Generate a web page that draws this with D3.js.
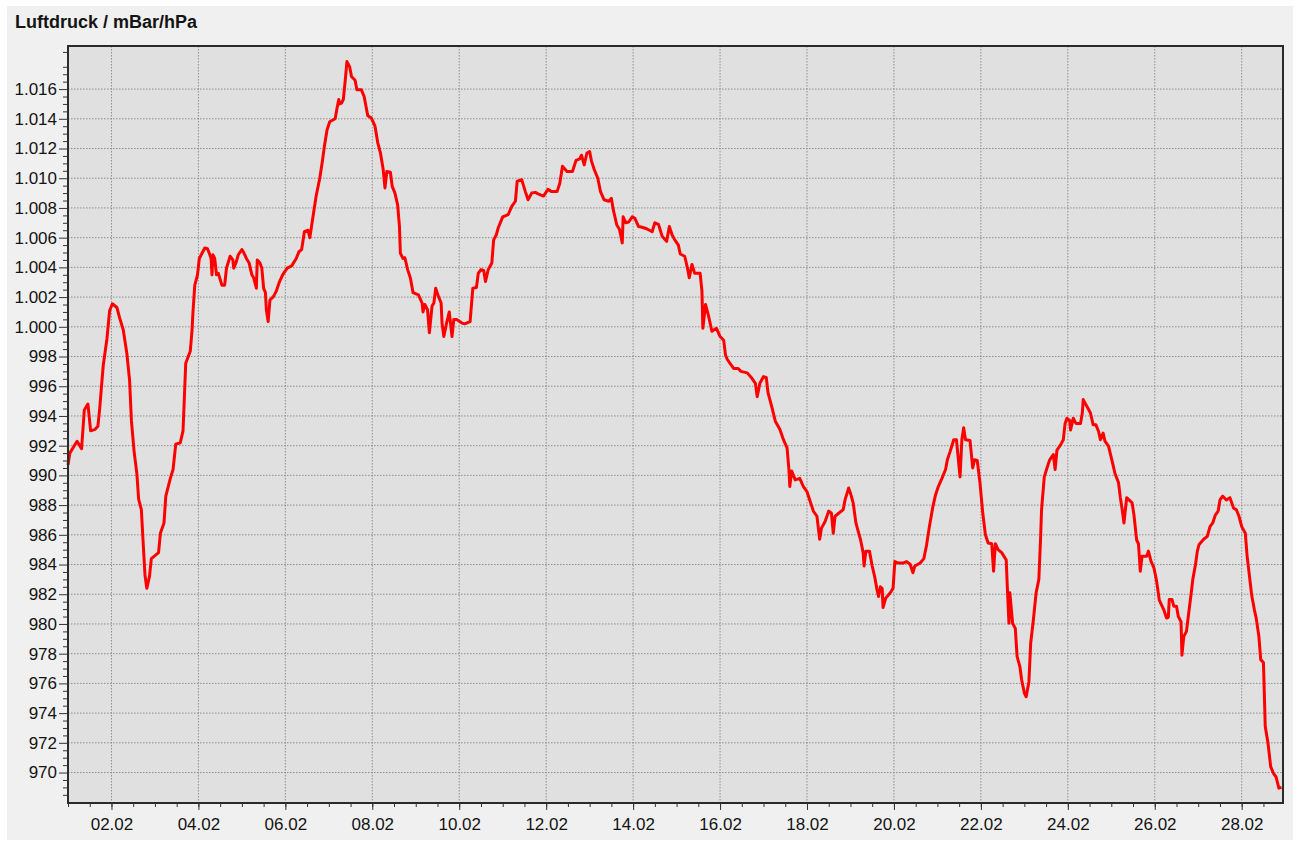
<!DOCTYPE html>
<html>
<head>
<meta charset="utf-8">
<script src="https://cdn.jsdelivr.net/npm/d3@7"></script>
<style>
  body { margin: 0; background: #fff; }
  svg { display: block; font-family: "Liberation Sans", Arial, sans-serif; }
</style>
</head>
<body>
<div id="chart"></div>
<script>
// hours after 01.02 00:00 and pressure in mBar
const hours = [
  0, 1, 5, 7.5, 9, 11, 12.5, 15, 16.5, 17.5, 18.5, 19.5, 21.5, 23, 24.5, 27, 28.5, 30.5, 32.5, 34,
  35, 36.5, 38, 39, 40.5, 41.5, 42.5, 43.5, 45, 46, 50, 51, 53, 54, 56.5, 58, 59.5, 62, 63.5, 64,
  65, 67.5, 68.5, 69, 70, 71.5, 72.5, 74, 75.5, 77, 78, 79, 79.5, 80, 81, 82, 83, 85, 86.5, 87.5,
  89.5, 91, 91.5, 93, 94, 96, 97, 98.5, 100, 101.5, 102.5, 104, 104.5, 106, 107, 108, 109, 109.5, 110.5, 111.5,
  113.5, 115, 116.5, 118.5, 121, 123.5, 126, 127.5, 129, 130.5, 132.5, 133.5, 135, 137, 139, 140.5, 141.5, 143, 144.5, 147.5,
  148.5, 149.5, 150, 151, 152, 153, 154, 155.5, 156.5, 158.5, 159.5, 162, 163.5, 165.5, 167.5, 169.5, 171, 172.5, 174, 175,
  176, 178, 179, 180.5, 182, 183, 183.5, 185, 186, 187.5, 189, 190.5, 193.5, 195.5, 196, 197, 198.5, 199.5, 201, 202,
  203, 204.5, 206, 206.5, 207.5, 209, 210.5, 212, 213, 214.5, 217.5, 219, 222, 223.5, 225.5, 226.5, 228, 229.5, 230.5, 232,
  234, 235, 236.5, 237.5, 240, 243, 245, 247, 248, 250.5, 252.5, 254, 256, 258, 259.5, 262.5, 265, 267, 270, 271.5,
  273, 275.5, 278.5, 280.5, 282.5, 283.5, 285, 286.5, 288, 289, 290.5, 292.5, 294, 296, 298.5, 300, 301, 303, 304.5, 306,
  306.5, 308, 309.5, 311.5, 313, 315, 317, 319.5, 322.5, 324, 326, 328, 330.5, 332, 333.5, 335, 337, 338, 340.5, 342,
  343, 344.5, 346, 349, 350, 350.5, 352, 353.5, 355.5, 358, 360, 362, 363, 364, 366, 367.5, 370, 371.5, 375, 377.5,
  379.5, 380.5, 382, 384, 385.5, 386.5, 388.5, 390.5, 393, 395, 397, 398, 398.5, 399.5, 401.5, 404, 406, 408, 409.5, 411.5,
  413.5, 415, 416, 418, 420, 421.5, 422.5, 423.5, 425.5, 428, 429, 431, 432, 433.5, 435, 437.5, 439, 439.5, 440.5, 442.5,
  444, 445.5, 446.5, 447.5, 448.5, 449.5, 450, 451.5, 454, 455.5, 456.5, 458.5, 461, 463, 465, 466.5, 467.5, 470.5, 472.5, 474,
  475.5, 477.5, 479, 480.5, 482.5, 484.5, 485.5, 487, 489, 490.5, 492.5, 493.5, 494.5, 495.5, 498, 499.5, 500.5, 502, 503.5, 505,
  506.5, 508, 510, 511, 512, 513.5, 515.5, 518, 518.5, 519.5, 520, 521.5, 523, 524, 525.5, 526.5, 528, 529, 530.5, 531.5,
  533, 534.5, 536, 537, 537.5, 539, 540.5, 542, 544, 545, 546, 548, 549.5, 550.5, 551.5, 553, 553.5, 555, 556.5, 559,
  560, 560.5, 562.5, 564.5, 566, 567.5, 569, 570, 571.5, 572.5, 574.5, 576.5, 578, 580, 581, 582, 583, 584.5, 587.5, 588.5,
  590, 591, 592, 593, 595.5, 596.5, 598, 599.5, 601, 602.5, 605, 606.5, 607.5, 608, 609.5, 610.5, 612, 613, 614.5, 615,
  616, 617.5, 618.5, 620, 621, 622.5, 623.5, 624.5, 627, 629, 630.5, 632, 633.5, 635, 636, 637.5, 639.5, 641.5, 643.5, 645,
  646.5, 648, 650, 651, 652.5, 653.5, 655, 656, 657.5, 658.5, 660, 661, 662.5, 664, 665.5, 667, 668.5, 670
];
const pressure = [
  990.7, 991.5, 992.3, 991.8, 994.4, 994.8, 993.0, 993.1, 993.3, 994.5, 996.0, 997.45, 999.2, 1001.1, 1001.55, 1001.3, 1000.6, 999.8, 998.2, 996.4,
  993.7, 991.6, 990.15, 988.4, 987.7, 985.45, 983.3, 982.4, 983.2, 984.4, 984.8, 986.1, 986.8, 988.6, 989.8, 990.4, 992.1, 992.2, 993.0, 994.5,
  997.55, 998.35, 999.8, 1001.0, 1002.8, 1003.5, 1004.6, 1004.95, 1005.3, 1005.25, 1004.95, 1004.6, 1003.5, 1004.85, 1004.6, 1003.5, 1003.6, 1002.8, 1002.8, 1003.95,
  1004.75, 1004.5, 1003.95, 1004.4, 1004.85, 1005.2, 1005.0, 1004.6, 1004.3, 1003.5, 1003.3, 1002.6, 1004.5, 1004.3, 1003.95, 1002.6, 1002.3, 1001.15, 1000.35, 1001.8,
  1002.05, 1002.4, 1002.95, 1003.5, 1003.95, 1004.1, 1004.6, 1005.05, 1005.2, 1006.4, 1006.5, 1006.0, 1007.2, 1008.8, 1010.0, 1011.2, 1012.1, 1013.25, 1013.8, 1014.0,
  1014.7, 1015.3, 1015.0, 1015.05, 1015.3, 1016.5, 1017.85, 1017.5, 1016.85, 1016.6, 1015.95, 1015.95, 1015.5, 1014.2, 1014.05, 1013.5, 1012.4, 1011.7, 1010.6, 1009.35,
  1010.45, 1010.4, 1009.45, 1009.0, 1008.2, 1006.75, 1004.95, 1004.6, 1004.65, 1003.85, 1003.3, 1002.3, 1002.15, 1001.6, 1001.0, 1001.5, 1001.15, 999.6, 1001.4, 1001.6,
  1002.6, 1002.05, 1001.6, 1000.25, 999.35, 1000.25, 1001.0, 999.35, 1000.5, 1000.5, 1000.25, 1000.2, 1000.35, 1002.6, 1002.65, 1003.6, 1003.85, 1003.8, 1003.05, 1003.85,
  1004.3, 1005.85, 1006.2, 1006.65, 1007.4, 1007.55, 1008.1, 1008.45, 1009.8, 1009.9, 1009.1, 1008.55, 1009.0, 1009.05, 1008.95, 1008.8, 1009.25, 1009.1, 1009.1, 1009.65,
  1010.8, 1010.45, 1010.45, 1011.2, 1011.3, 1011.55, 1010.9, 1011.7, 1011.8, 1011.15, 1010.6, 1010.0, 1009.1, 1008.55, 1008.45, 1008.65, 1007.9, 1006.85, 1006.55, 1005.65,
  1007.4, 1007.0, 1007.05, 1007.4, 1007.3, 1006.75, 1006.7, 1006.6, 1006.4, 1007.0, 1006.9, 1006.1, 1005.75, 1006.75, 1006.2, 1005.85, 1005.5, 1004.9, 1004.75, 1003.95,
  1003.3, 1004.2, 1003.6, 1003.6, 1002.4, 999.9, 1001.5, 1000.8, 999.7, 999.9, 999.35, 999.1, 998.1, 997.8, 997.45, 997.2, 997.2, 997.0, 996.9, 996.55,
  996.2, 995.3, 996.2, 996.65, 996.6, 995.55, 994.65, 993.65, 993.1, 992.4, 991.85, 990.4, 989.25, 990.3, 989.7, 989.8, 989.25, 988.9, 988.35, 987.6,
  987.25, 985.7, 986.45, 986.9, 987.6, 987.45, 986.1, 987.25, 987.45, 987.7, 988.35, 989.15, 988.8, 988.15, 986.8, 985.7, 984.8, 983.9, 984.9, 984.9,
  983.9, 983.1, 982.4, 981.85, 982.5, 982.4, 981.1, 981.75, 982.1, 982.4, 984.2, 984.1, 984.1, 984.2, 984.0, 983.45, 983.9, 984.1, 984.4, 985.3,
  986.5, 987.9, 988.7, 989.25, 989.8, 990.4, 991.05, 991.6, 992.4, 992.4, 989.9, 992.4, 993.2, 992.4, 992.35, 990.5, 991.05, 991.0, 989.5, 987.5,
  986.0, 985.45, 985.4, 983.55, 985.4, 985.0, 984.8, 984.3, 982.75, 980.05, 982.1, 980.05, 979.7, 977.8, 977.15, 976.25, 975.35, 975.1, 976.1, 978.7,
  980.3, 982.1, 983.0, 985.9, 987.7, 989.9, 990.5, 991.05, 991.4, 990.4, 991.7, 992.05, 992.4, 993.5, 993.85, 993.7, 993.05, 993.85, 993.5, 993.5,
  994.2, 995.1, 994.65, 994.2, 993.4, 993.4, 992.95, 992.4, 992.85, 992.3, 991.95, 990.95, 990.15, 989.5, 988.5, 987.7, 986.8, 988.5, 988.15, 987.35,
  985.65, 985.4, 983.55, 984.55, 984.55, 984.9, 984.2, 983.8, 982.9, 981.6, 980.95, 980.4, 980.45, 981.65, 981.65, 981.2, 981.2, 980.5, 980.15, 977.9,
  979.15, 979.5, 980.5, 981.95, 983.0, 984.0, 984.9, 985.35, 985.7, 985.9, 986.55, 986.8, 987.35, 987.6, 988.35, 988.6, 988.35, 988.5, 987.8, 987.7,
  987.25, 986.55, 986.1, 984.55, 983.0, 981.95, 980.95, 980.4, 979.15, 977.6, 977.4, 973.1, 972.0, 970.4, 969.95, 969.7, 968.95, 969.0
];

// axis labels
const yTicks = [970, 972, 974, 976, 978, 980, 982, 984, 986, 988, 990, 992, 994, 996, 998,
                1000, 1002, 1004, 1006, 1008, 1010, 1012, 1014, 1016];
const xTickDays = [2, 4, 6, 8, 10, 12, 14, 16, 18, 20, 22, 24, 26, 28];
const title = "Luftdruck / mBar/hPa";

const W = 1299, H = 846;
const margin = {top: 46, right: 16, bottom: 43, left: 68};
const width = W - margin.left - margin.right;
const height = H - margin.top - margin.bottom;

const start = new Date(2023, 1, 1);
const toDate = h => new Date(start.getTime() + h * 3600e3);
const data = hours.map((h, i) => ({t: toDate(h), v: pressure[i]}));

// german number format: 1.016
const de = d3.formatLocale({decimal: ",", thousands: ".", grouping: [3], currency: ["", " €"]});
const fmtY = de.format(",d");

const svgRoot = d3.select("#chart").append("svg")
    .attr("width", W)
    .attr("height", H);

// grey panel
svgRoot.append("rect")
    .attr("x", 7).attr("y", 6)
    .attr("width", 1286).attr("height", 834)
    .attr("fill", "#f0f0f0");

svgRoot.append("text")
    .attr("x", 15).attr("y", 28)
    .attr("font-size", 18).attr("font-weight", "bold")
    .attr("fill", "#141414")
    .text(title);

const svg = svgRoot.append("g")
    .attr("transform", `translate(${margin.left},${margin.top})`);

const x = d3.scaleTime()
    .domain([start, toDate(670.8)])
    .range([0, width]);

const y = d3.scaleLinear()
    .domain([967.95, 1018.9])
    .range([height, 0]);

// plot background
svg.append("rect")
    .attr("width", width).attr("height", height)
    .attr("fill", "#e0e0e0");

// dotted grid
svg.append("g")
    .selectAll("line.h")
    .data(yTicks)
    .enter().append("line")
    .attr("x1", 0).attr("x2", width)
    .attr("y1", d => y(d)).attr("y2", d => y(d))
    .attr("stroke", "#8e8e8e")
    .attr("stroke-dasharray", "1.5,1.5");

svg.append("g")
    .selectAll("line.v")
    .data(xTickDays)
    .enter().append("line")
    .attr("x1", d => x(new Date(2023, 1, d))).attr("x2", d => x(new Date(2023, 1, d)))
    .attr("y1", 0).attr("y2", height)
    .attr("stroke", "#8e8e8e")
    .attr("stroke-dasharray", "1.5,1.5");

// the pressure line
svg.append("path")
    .datum(data)
    .attr("fill", "none")
    .attr("stroke", "#ff0000")
    .attr("stroke-width", 3)
    .attr("stroke-linejoin", "round")
    .attr("d", d3.line().x(d => x(d.t)).y(d => y(d.v)));

// frame
svg.append("rect")
    .attr("width", width).attr("height", height)
    .attr("fill", "none")
    .attr("stroke", "#2a2a2a")
    .attr("stroke-width", 2);

// y axis: minor ticks every 0.5, major every 2
const yMinor = d3.range(968, 1018.9, 0.5).filter(v => v % 2 !== 0);
svg.append("g")
    .call(d3.axisLeft(y).tickValues(yMinor).tickSize(5).tickFormat(""))
    .call(g => g.select(".domain").remove())
    .selectAll("line").attr("stroke", "#333");

svg.append("g")
    .call(d3.axisLeft(y).tickValues(yTicks).tickSize(9).tickPadding(2).tickFormat(fmtY))
    .call(g => g.select(".domain").remove())
    .call(g => g.selectAll("line").attr("stroke", "#333"))
    .selectAll("text")
    .attr("font-size", 17)
    .attr("font-family", "Liberation Sans, Arial, sans-serif")
    .attr("fill", "#141414");

// x axis: minor ticks every 12h, labels every 2 days
const xMinor = d3.range(0, 671, 12).map(toDate);
svg.append("g")
    .attr("transform", `translate(0,${height})`)
    .call(d3.axisBottom(x).tickValues(xMinor).tickSize(4).tickFormat(""))
    .call(g => g.select(".domain").remove())
    .selectAll("line").attr("stroke", "#333");

svg.append("g")
    .attr("transform", `translate(0,${height})`)
    .call(d3.axisBottom(x)
        .tickValues(xTickDays.map(d => new Date(2023, 1, d)))
        .tickSize(7).tickPadding(8)
        .tickFormat(d3.timeFormat("%d.%m")))
    .call(g => g.select(".domain").remove())
    .call(g => g.selectAll("line").attr("stroke", "#333"))
    .selectAll("text")
    .attr("font-size", 17)
    .attr("font-family", "Liberation Sans, Arial, sans-serif")
    .attr("fill", "#141414");
</script>
</body>
</html>
